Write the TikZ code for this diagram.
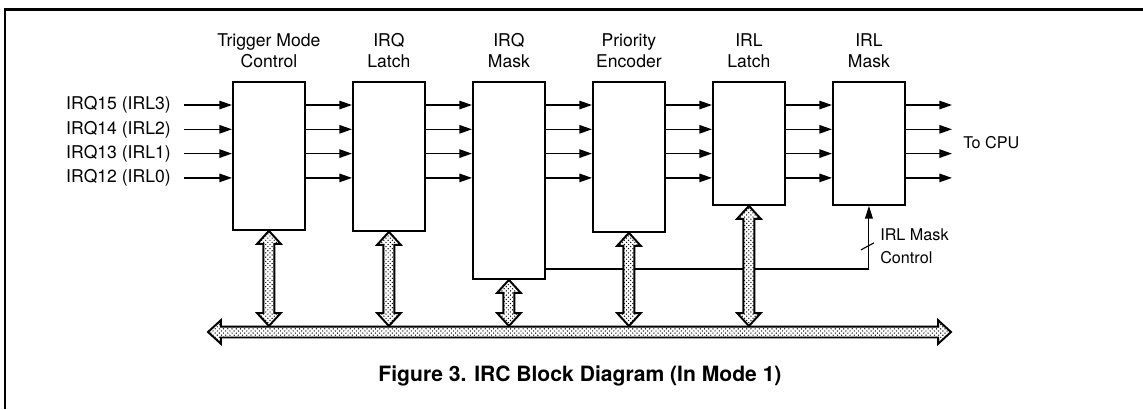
\documentclass[tikz,border=0pt]{standalone}
\usepackage{fontspec}
\setmainfont{TeX Gyre Heros}
\usetikzlibrary{arrows.meta,positioning,calc,patterns}
\tikzset{
  blockbox/.style={draw, line width=1.3pt, minimum width=1.8cm, inner sep=0pt,
                   anchor=north west},
  blocklabel/.style={font=\fontsize{12.5}{15}\selectfont, align=center, inner sep=0pt},
  inlabel/.style={font=\fontsize{12.5}{15}\selectfont, inner sep=0pt, anchor=east},
  smalllabel/.style={font=\fontsize{11.5}{16.4}\selectfont, inner sep=0pt, anchor=west},
  sigarrow/.style={-{Triangle[length=9pt,width=6pt]}, line width=1pt},
  ctrlline/.style={line width=0.8pt},
  busfill/.style={draw, line width=1.4pt, preaction={fill=white},
                  pattern=crosshatch dots, pattern color=black}
}
\def\bhw{8.4pt} \def\bsw{3.9pt} \def\bhl{9.2pt}
% vertical two-headed bus arrow from a block down to the bus
\newcommand\vbusarrow[1]{%
  \path[busfill] let \p1=(#1.south), \p2=(#1.south |- bustop) in
    (\x1,\y1) -- (\x1+\bhw,\y1-\bhl) -- (\x1+\bsw,\y1-\bhl) -- (\x1+\bsw,\y2+\bhl)
    -- (\x1+\bhw,\y2+\bhl) -- (\x1,\y2) -- (\x1-\bhw,\y2+\bhl) -- (\x1-\bsw,\y2+\bhl)
    -- (\x1-\bsw,\y1-\bhl) -- (\x1-\bhw,\y1-\bhl) -- cycle;}
\begin{document}
\begin{tikzpicture}[x=0.025cm, y=-0.025cm]
    \useasboundingbox (0,0) rectangle (1143,409);
    \draw[line width=1.7pt] (5.3,409) -- (5.3,9.5) -- (1143,9.5);

    % Blocks
    \node[blockbox, minimum height=3.7cm]   (tmc)      at (232,81) {};
    \node[blockbox, minimum height=3.725cm] (irqlatch) at (352,81) {};
    \node[blockbox, minimum height=4.925cm] (irqmask)  at (472,81) {};
    \node[blockbox, minimum height=3.75cm]  (prienc)   at (592,81) {};
    \node[blockbox, minimum height=3.075cm] (irllatch) at (712,81) {};
    \node[blockbox, minimum height=3.075cm] (irlmask)  at (832,81) {};

    \node[blocklabel, above=0.33cm of tmc]      (tmclbl)      {Trigger Mode\\Control};
    \node[blocklabel, above=0.33cm of irqlatch] (irqlatchlbl) {IRQ\\Latch};
    \node[blocklabel, above=0.33cm of irqmask]  (irqmasklbl)  {IRQ\\Mask};
    \node[blocklabel, above=0.33cm of prienc]   (priinclbl)   {Priority\\Encoder};
    \node[blocklabel, above=0.33cm of irllatch] (irllatchlbl) {IRL\\Latch};
    \node[blocklabel, above=0.33cm of irlmask]  (irlmasklbl)  {IRL\\Mask};

    % Inputs
    \foreach \i/\y/\t in {1/105/{IRQ15 (IRL3)}, 2/129.3/{IRQ14 (IRL2)},
                          3/153.6/{IRQ13 (IRL1)}, 4/177.9/{IRQ12 (IRL0)}}
      \node[inlabel] (in\i) at (171,\y) {\t};

    \coordinate (cpuend) at (952,0);
    \node[smalllabel] (tocpu) at (963,143) {To CPU};

    % Signal lines
    \foreach \i in {1,...,4} {
      \draw[sigarrow] ([xshift=0.325cm]in\i.east) -- (tmc.west |- in\i.east);
      \foreach \a/\b in {tmc/irqlatch, irqlatch/irqmask, irqmask/prienc,
                         prienc/irllatch, irllatch/irlmask}
        \draw[sigarrow] (\a.east |- in\i.east) -- (\b.west |- in\i.east);
      \draw[sigarrow] (irlmask.east |- in\i.east) -- (cpuend |- in\i.east);
    }

    % Mask control
    \coordinate (mcturn) at (869,269);
    \draw[ctrlline, -{Triangle[length=9pt,width=5.5pt]}]
      (irqmask.east |- mcturn) -| (irlmask.south);
    \draw[ctrlline] ($(irlmask.south)+(-8,44)$) -- ++(13,-7);
    \node[smalllabel, align=left] (mclbl) at (880,246) {IRL Mask\\Control};

    % Bus
    \coordinate (busL) at (208,332);
    \coordinate (busR) at (951,332);
    \coordinate (bustop) at (0,326);
    \foreach \b in {tmc,irqlatch,irqmask,prienc,irllatch}
      \vbusarrow{\b};
    \path[busfill] let \p1=(busL), \p2=(busR) in
      (\x1,\y1) -- (\x1+\bhl,\y1+\bhw) -- (\x1+\bhl,\y1+\bsw) -- (\x2-\bhl,\y1+\bsw)
      -- (\x2-\bhl,\y1+\bhw) -- (\x2,\y1) -- (\x2-\bhl,\y1-\bhw) -- (\x2-\bhl,\y1-\bsw)
      -- (\x1+\bhl,\y1-\bsw) -- (\x1+\bhl,\y1-\bhw) -- cycle;

    \node[font=\fontsize{15}{18}\selectfont\bfseries] (title) at (580,376)
      {Figure 3. IRC Block Diagram (In Mode 1)};
\end{tikzpicture}
\end{document}
